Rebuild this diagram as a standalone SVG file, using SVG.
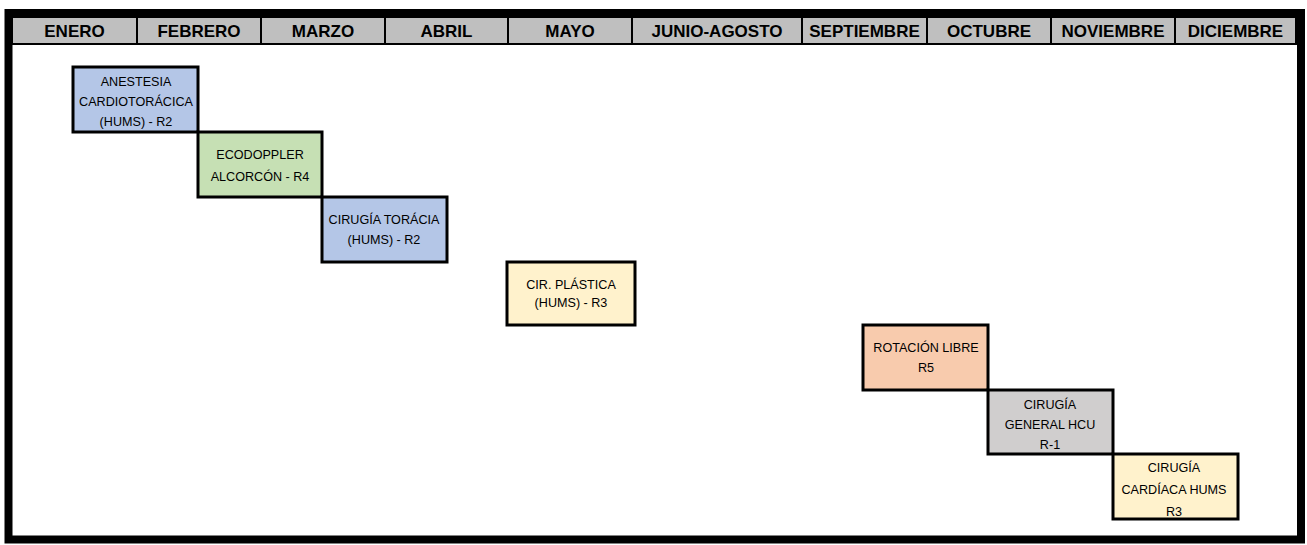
<svg xmlns="http://www.w3.org/2000/svg" width="1307" height="545" viewBox="0 0 1307 545">
<style>
.hdr{font-family:"Liberation Sans",Arial,sans-serif;font-weight:bold;font-size:17px;fill:#000;text-anchor:middle}
.hcell{fill:#BFBFBF;stroke:#000;stroke-width:2}
.box{stroke:#000;stroke-width:3}
.t{font-family:"Liberation Sans",Arial,sans-serif;font-size:12.6px;fill:#000;text-anchor:middle}
</style>
<rect x="0" y="0" width="1307" height="545" fill="#fff"/>
<g id="frame">
<rect x="8.5" y="13" width="1292.5" height="526.5" fill="#fff" stroke="#000" stroke-width="8"/>
</g>
<g id="header">
<rect class="hcell" x="12" y="17" width="125" height="27"/>
<rect class="hcell" x="137" y="17" width="124" height="27"/>
<rect class="hcell" x="261" y="17" width="124" height="27"/>
<rect class="hcell" x="385" y="17" width="123" height="27"/>
<rect class="hcell" x="508" y="17" width="124" height="27"/>
<rect class="hcell" x="632" y="17" width="170" height="27"/>
<rect class="hcell" x="802" y="17" width="125" height="27"/>
<rect class="hcell" x="927" y="17" width="124" height="27"/>
<rect class="hcell" x="1051" y="17" width="124" height="27"/>
<rect class="hcell" x="1175" y="17" width="121" height="27"/>
<text class="hdr" x="74.5" y="37">ENERO</text>
<text class="hdr" x="199" y="37">FEBRERO</text>
<text class="hdr" x="323" y="37">MARZO</text>
<text class="hdr" x="446.5" y="37">ABRIL</text>
<text class="hdr" x="570" y="37">MAYO</text>
<text class="hdr" x="717" y="37">JUNIO-AGOSTO</text>
<text class="hdr" x="864.5" y="37">SEPTIEMBRE</text>
<text class="hdr" x="989" y="37">OCTUBRE</text>
<text class="hdr" x="1113" y="37">NOVIEMBRE</text>
<text class="hdr" x="1235.5" y="37">DICIEMBRE</text>
</g>
<g id="connectors"></g>
<g id="n1">
<rect class="box" x="73" y="67" width="125" height="65" fill="#B4C6E7"/>
<text class="t" x="136" y="86">ANESTESIA</text>
<text class="t" x="136" y="106">CARDIOTORÁCICA</text>
<text class="t" x="136" y="126">(HUMS) - R2</text>
</g>
<g id="n2">
<rect class="box" x="198" y="132" width="124" height="65" fill="#C6E0B4"/>
<text class="t" x="260" y="159">ECODOPPLER</text>
<text class="t" x="260" y="181">ALCORCÓN - R4</text>
</g>
<g id="n3">
<rect class="box" x="322" y="197" width="125" height="65" fill="#B4C6E7"/>
<text class="t" x="384" y="224">CIRUGÍA TORÁCIA</text>
<text class="t" x="384" y="244">(HUMS) - R2</text>
</g>
<g id="n4">
<rect class="box" x="507" y="262" width="128" height="63" fill="#FFF2CC"/>
<text class="t" x="571" y="289">CIR. PLÁSTICA</text>
<text class="t" x="571" y="307">(HUMS) - R3</text>
</g>
<g id="n5">
<rect class="box" x="863" y="325" width="125" height="65" fill="#F8CBAD"/>
<text class="t" x="926" y="352">ROTACIÓN LIBRE</text>
<text class="t" x="926" y="372">R5</text>
</g>
<g id="n6">
<rect class="box" x="988" y="390" width="125" height="64" fill="#D0CECE"/>
<text class="t" x="1050" y="409">CIRUGÍA</text>
<text class="t" x="1050" y="429">GENERAL HCU</text>
<text class="t" x="1050" y="449">R-1</text>
</g>
<g id="n7">
<rect class="box" x="1113" y="454" width="125" height="65" fill="#FFF2CC"/>
<text class="t" x="1174" y="472">CIRUGÍA</text>
<text class="t" x="1174" y="494">CARDÍACA HUMS</text>
<text class="t" x="1174" y="516">R3</text>
</g>
</svg>
